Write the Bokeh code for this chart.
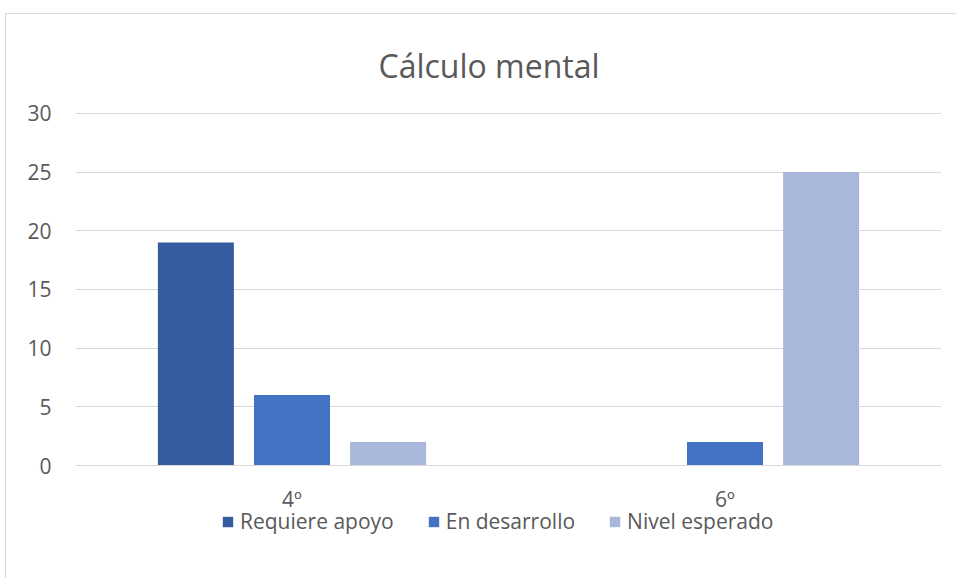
from bokeh.plotting import figure
from bokeh.models import FactorRange, Range1d, Legend, LegendItem, FixedTicker, ColumnDataSource
from bokeh.transform import dodge
from bokeh.embed import file_html
from bokeh.resources import INLINE

chart_title = "Cálculo mental"
grades = ["4º", "6º"]
series = ["Requiere apoyo", "En desarrollo", "Nivel esperado"]
requiere_apoyo = [19, 0]
en_desarrollo = [6, 2]
nivel_esperado = [2, 25]
colors = ["#345C9F", "#4472C4", "#A9B7DB"]
y_ticks = [0, 5, 10, 15, 20, 25, 30]

FONT = "Open Sans"
TXT = "#595959"

src = ColumnDataSource(dict(grade=grades, s0=requiere_apoyo, s1=en_desarrollo, s2=nivel_esperado))

# frame extends below the zero line to host the legend (axis fixed at y=0)
p = figure(x_range=FactorRange(*grades, range_padding=0), y_range=Range1d(-6.22, 30.08),
           frame_width=866, frame_height=426, output_backend="svg", toolbar_location=None,
           min_border_left=69, min_border_right=15, min_border_top=98, min_border_bottom=40,
           title=chart_title)
p.styles = {"border-left": "1px solid #D9D9D9", "border-top": "1px solid #D9D9D9",
            "margin-left": "5px", "margin-top": "13px"}

offsets = [-0.222, 0.0, 0.222]
renderers = []
for i, key in enumerate(["s0", "s1", "s2"]):
    r = p.vbar(x=dodge("grade", offsets[i], range=p.x_range), top=key, bottom=0, width=0.1755,
               source=src, fill_color=colors[i], line_color=None)
    renderers.append(r)

p.title.align = "left"
p.title.offset = 303
p.title.text_font = FONT
p.title.text_font_size = "32px"
p.title.text_font_style = "normal"
p.title.text_color = TXT
p.title.standoff = 51

p.outline_line_color = None
p.xgrid.grid_line_color = None
p.ygrid.grid_line_color = "#D9D9D9"
p.ygrid.grid_line_width = 1
p.ygrid.ticker = FixedTicker(ticks=y_ticks)

p.yaxis.ticker = FixedTicker(ticks=y_ticks)
p.yaxis.axis_line_color = None
p.yaxis.major_tick_line_color = None
p.yaxis.minor_tick_line_color = None
p.yaxis.major_label_text_font = FONT
p.yaxis.major_label_text_font_size = "21px"
p.yaxis.major_label_text_color = TXT
p.yaxis.major_label_standoff = 18

p.xaxis.fixed_location = 0
p.xaxis.axis_line_color = "#D9D9D9"
p.xaxis.major_tick_line_color = None
p.xaxis.minor_tick_line_color = None
p.xaxis.major_label_text_font = FONT
p.xaxis.major_label_text_font_size = "21px"
p.xaxis.major_label_text_color = TXT
p.xaxis.major_label_standoff = 13

legend = Legend(items=[LegendItem(label=s, renderers=[r]) for s, r in zip(series, renderers)],
                orientation="horizontal", location=(146, 3), border_line_color=None,
                background_fill_alpha=0, glyph_width=13, glyph_height=13,
                label_text_font=FONT, label_text_font_size="21px", label_text_color=TXT,
                spacing=33, label_standoff=6, padding=0, margin=0)
p.add_layout(legend, "center")

open("out.html", "w").write(file_html(p, INLINE))
